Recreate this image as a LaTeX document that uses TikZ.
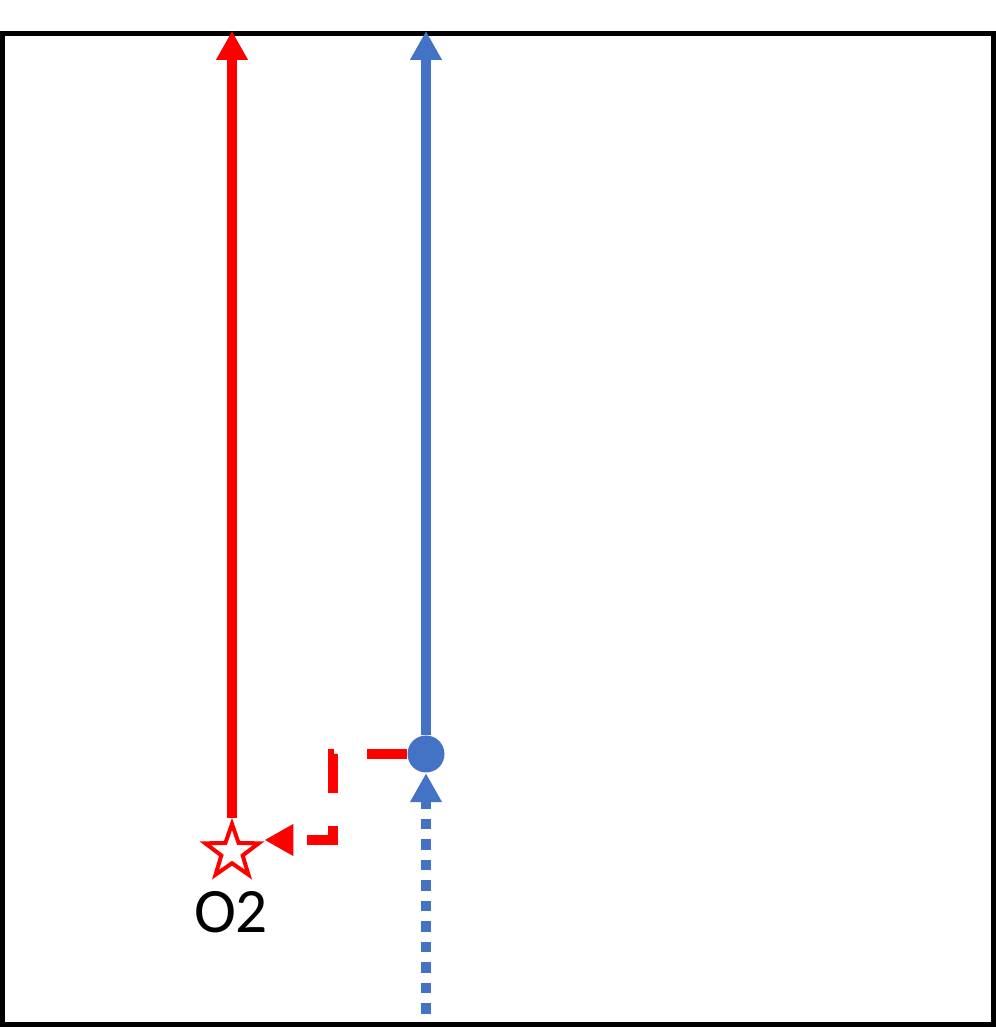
\documentclass[tikz,border=0pt]{standalone}
\usepackage{fontspec}
\newfontfamily\labelfont{Carlito}
\usetikzlibrary{arrows.meta,shapes.geometric}

\definecolor{offblue}{HTML}{4472C4}
\definecolor{offred}{HTML}{FF0000}

\begin{document}
\begin{tikzpicture}[
	thickline/.style={line width=0.1cm},
	tip/.style={-{Triangle[length=0.29cm,width=0.30cm]}},
	]

	\useasboundingbox (0,0) rectangle (9.96,10.27);
	\draw[line width=0.05cm,black] (0.025,0.025) rectangle (9.935,9.935);

	\node[star, star points=5, star point ratio=2.5, minimum size=0.56cm, inner sep=0pt,
		draw=offred, fill=white, line width=0.04cm] (O2) at (2.32, 1.75) {};
	\node[anchor=base, text=black, font=\labelfont\fontsize{18}{22}\selectfont] (O2label) at (2.31, 0.945) {O2};

	\node[circle, fill=offblue, minimum size=0.37cm, inner sep=0pt] (dot) at (4.26, 2.73) {};

	\coordinate (redtop) at (2.32, 9.96);
	\coordinate (bluetop) at (4.26, 9.96);
	\coordinate (bluestart) at (4.26, 0.13);
	\coordinate (bend) at (3.33, 1.87);

	\draw[thickline,tip,offred] (O2.north) -- (redtop);
	\draw[thickline,tip,offblue] (dot) -- (bluetop);
	\draw[thickline,tip,offblue,dash pattern=on 0.105cm off 0.10cm] (bluestart) -- (dot.south);
	\draw[thickline,tip,offred,dash pattern=on 0.40cm off 0.33cm] (dot) -| (bend) -- (bend -| O2.outer point 5);

\end{tikzpicture}
\end{document}
